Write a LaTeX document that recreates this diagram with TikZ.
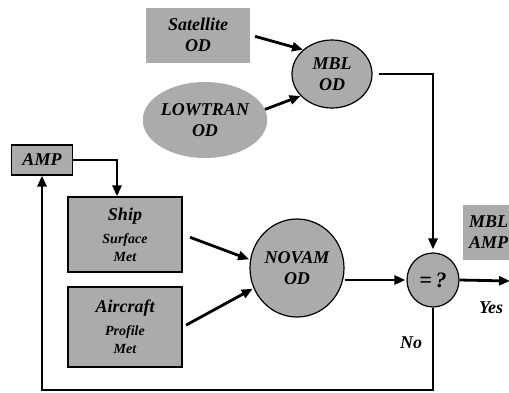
\documentclass[tikz,border=0pt]{standalone}
\usepackage{fontspec}
\setmainfont{Liberation Serif}
\newfontfamily\tf{Liberation Serif}
\usetikzlibrary{shapes.geometric,arrows.meta,calc}
\begin{document}
\begin{tikzpicture}[x=1pt,y=-1pt,
  stip/.style={fill=black!33},
  lbl/.style={font=\tf\fontsize{18}{21}\selectfont\bfseries\itshape, align=center, inner sep=0pt},
  boxd/.style={stip, draw=black, line width=1.2pt, rectangle},
  ell/.style={stip, draw=black, line width=1.2pt, ellipse},
  arr/.style={line width=2.8pt, -{Triangle[length=11pt,width=9pt]}}]
\useasboundingbox (0,0) rectangle (509,392);
% nodes
\node[stip, rectangle, minimum width=104pt, minimum height=55pt, lbl] (sat) at (198,35) {Satellite\\OD};
\node[ell, minimum width=80pt, minimum height=68pt, lbl] (mbl) at (332,74) {MBL\\OD};
\node[stip, ellipse, minimum width=110pt, minimum height=76pt, lbl] (low) at (205,120) {LOWTRAN\\OD};
\node[boxd, minimum width=61pt, minimum height=30pt, lbl] (amp) at (42,160) {AMP};
\node[boxd, minimum width=114pt, minimum height=75pt, lbl] (ship) at (125,234.5) {Ship\\[2pt]{\fontsize{14}{16}\selectfont Surface}\\[-3pt]{\fontsize{14}{16}\selectfont Met}};
\node[boxd, minimum width=114pt, minimum height=80pt, lbl] (air) at (125,327) {Aircraft\\[2pt]{\fontsize{14}{16}\selectfont Profile}\\[-3pt]{\fontsize{14}{16}\selectfont Met}};
\node[ell, minimum width=94pt, minimum height=98pt, lbl] (novam) at (297,268) {NOVAM\\OD};
\node[ell, minimum width=52pt, minimum height=54pt, lbl, font=\tf\fontsize{22}{24}\selectfont\bfseries\itshape] (eq) at (433,280) {=\,?};
\node[stip, rectangle, anchor=north west, minimum width=60pt, minimum height=55pt] (mblampbox) at (463,205) {};
\node[lbl, anchor=west, align=left] (mblamp) at (469,232) {MBL\\AMP};
\node[lbl] (yes) at (491,308) {Yes};
\node[lbl] (no) at (411,343) {No};
\coordinate (out) at (510,281);
\coordinate (bot) at (433,390);
% connectors
\draw[arr, shorten <=5pt] (sat.east) -- (mbl.140);
\draw[arr] (low.10) -- (mbl.215);
\draw[arr, shorten <=6pt, shorten >=3pt] (mbl.east) -| (eq.north);
\draw[arr, shorten >=1pt] (novam.east |- eq.west) -- (eq.west);
\draw[arr] (eq.east) -- (out);
\draw[arr, shorten <=8pt, shorten >=1pt] (ship.east) -- (novam.170);
\draw[arr, shorten <=4pt, shorten >=1pt] (air.east) -- (novam.205);
\draw[arr] (eq.south) -- (bot) -| (amp.south);
\draw[arr] (amp.east) -| ([xshift=-8pt]ship.north);
\end{tikzpicture}
\end{document}
